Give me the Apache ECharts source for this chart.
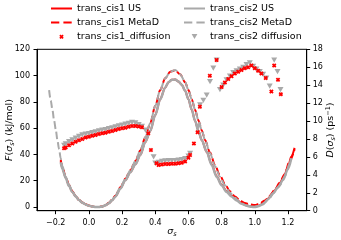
<!DOCTYPE html>
<html><head><meta charset="utf-8">
<script src="https://cdn.jsdelivr.net/npm/echarts@6/dist/echarts.min.js"></script>
<style>html,body{margin:0;padding:0;background:#fff}#c{width:341px;height:240px}</style>
</head><body><div id="c"></div>
<script>
// ---- data ----
const xTicks = [-0.2, 0.0, 0.2, 0.4, 0.6, 0.8, 1.0, 1.2];
const fTicks = [0, 20, 40, 60, 80, 100, 120];

const cis2US_sigma = [-0.17,-0.16,-0.14,-0.12,-0.10,-0.08,-0.06,-0.04,-0.02,0.00,0.02,0.04,0.06,0.08,0.10,0.12,0.14,0.16,0.19,0.22,0.25,0.28,0.31,0.34,0.37,0.40,0.43,0.46,0.48,0.50,0.52,0.54,0.56,0.58,0.60,0.62,0.64,0.66,0.68,0.71,0.74,0.77,0.80,0.83,0.86,0.89,0.92,0.95,0.98,1.00,1.02,1.05,1.08,1.11,1.14,1.17,1.20,1.22];
const cis2US_F = [34,29,22,16,11.5,8,5.3,3.3,2.0,1.0,0.4,0.1,0,0.3,1.3,2.8,5,8,14,20.5,26.5,32.5,39.5,49.5,58,70,82,91,95,96.8,97,95.5,93,88.5,82,74,65.5,58,51,42,32,23,16.5,11.5,8,5,2.5,1.0,0.2,0,0.5,2.2,6,10.5,15,20.5,29,37];

const cis2MD_sigma = [-0.24,-0.23,-0.22,-0.21,-0.20,-0.19,-0.18,-0.17,-0.16,-0.14,-0.12,-0.10,-0.08,-0.06,-0.04,-0.02,0.00,0.02,0.04,0.06,0.08,0.10,0.12,0.14,0.16,0.19,0.22,0.25,0.28,0.31,0.34,0.37,0.40,0.43,0.46,0.49,0.52,0.55,0.58,0.60,0.62,0.64,0.66,0.68,0.70,0.73,0.76,0.79,0.82,0.85,0.88,0.91,0.94,0.97,1.00,1.03,1.06,1.09,1.12,1.15,1.18,1.21,1.22];
const cis2MD_F = [89,81,74,66,59,51,44,37,31,23,17,12,8.3,5.5,3.4,2.0,1.0,0.4,0.1,0,0.4,1.5,3.2,5.6,8.8,15,21.5,28,35,43,53,64,77,89,98,103,104.3,101,95,89,82,74,66,58.5,51,41,31,23,16.5,11,7,3.8,1.6,0.4,0.2,1.0,3.5,7,11.5,16.5,23,33,37];

const cis1US_sigma = [-0.17,-0.16,-0.14,-0.12,-0.10,-0.08,-0.06,-0.04,-0.02,0.00,0.02,0.04,0.06,0.08,0.10,0.12,0.14,0.16,0.19,0.22,0.25,0.28,0.31,0.34,0.37,0.40,0.43,0.46,0.48,0.50,0.52,0.54,0.56,0.58,0.60,0.62,0.64,0.66,0.68,0.71,0.74,0.77,0.80,0.83,0.86,0.89,0.92,0.95,0.98,1.00,1.02,1.05,1.08,1.11,1.14,1.17,1.20,1.22,1.24];
const cis1US_F = [35,29.5,22.5,16.2,11.6,8.1,5.4,3.4,2.1,1.1,0.5,0.1,0,0.3,1.3,2.9,5.1,8.1,14.2,20.6,26.6,32.6,39.6,49.5,58,70,82,91,95,96.8,97,95.5,93,88.5,82,74,65.5,58,51,42,32.5,23.5,17,12,8.5,5.5,3,1.3,0.5,0.3,0.8,2.6,6.5,11,15.5,21.5,30,38.5,45];

const cis1MD_sigma = [-0.17,-0.16,-0.14,-0.12,-0.10,-0.08,-0.06,-0.04,-0.02,0.00,0.02,0.04,0.06,0.08,0.10,0.12,0.14,0.16,0.19,0.22,0.25,0.28,0.31,0.34,0.37,0.40,0.43,0.46,0.49,0.52,0.55,0.58,0.60,0.62,0.64,0.66,0.68,0.70,0.73,0.76,0.79,0.82,0.85,0.88,0.91,0.94,0.97,1.00,1.03,1.06,1.09,1.12,1.15,1.18,1.21,1.24];
const cis1MD_F = [36,30.5,22.8,16.8,12,8.3,5.5,3.4,2.0,1.0,0.4,0.1,0,0.4,1.5,3.2,5.6,8.8,15,21.5,28,35,43,53,64,77,89,98,103,104,101,95,89,82,74,66,58.5,51,41.5,32,24,17.5,12,8,5,3,2,1.6,2.5,5,8.5,13,18.5,25,35,44];

const cis1Diff_sigma = [-0.15,-0.14,-0.12,-0.10,-0.08,-0.06,-0.04,-0.02,0.00,0.02,0.04,0.06,0.08,0.10,0.12,0.14,0.16,0.18,0.20,0.22,0.24,0.26,0.28,0.30,0.32,0.358,0.374,0.408,0.42,0.44,0.46,0.48,0.50,0.52,0.54,0.56,0.58,0.60,0.61,0.633,0.655,0.669,0.729,0.77,0.80,0.82,0.84,0.86,0.88,0.90,0.92,0.94,0.96,0.98,1.00,1.02,1.04,1.066,1.10,1.117,1.14,1.157];
const cis1Diff_D = [6.96,7.05,7.3,7.5,7.7,7.85,8.0,8.15,8.25,8.35,8.45,8.55,8.65,8.7,8.8,8.9,9.0,9.1,9.2,9.25,9.35,9.45,9.45,9.4,9.3,8.63,6.77,5.3,5.1,5.15,5.2,5.2,5.25,5.25,5.3,5.35,5.5,5.9,6.2,7.5,8.74,11.6,15.05,16.8,13.8,14.3,14.7,15.0,15.3,15.5,15.7,15.9,16.0,16.2,15.9,15.6,15.3,14.8,13.3,16.2,14.6,13.0];

const cis2Diff_sigma = [-0.15,-0.14,-0.12,-0.10,-0.08,-0.06,-0.04,-0.02,0.00,0.02,0.04,0.06,0.08,0.10,0.12,0.14,0.16,0.18,0.20,0.22,0.24,0.26,0.28,0.30,0.32,0.34,0.355,0.39,0.40,0.42,0.44,0.46,0.48,0.50,0.52,0.54,0.56,0.58,0.60,0.61,0.66,0.67,0.69,0.71,0.73,0.75,0.77,0.79,0.81,0.83,0.85,0.87,0.89,0.91,0.93,0.95,0.97,0.99,1.01,1.03,1.05,1.07,1.09,1.117,1.137,1.155];
const cis2Diff_D = [7.3,7.45,7.7,7.9,8.1,8.3,8.45,8.55,8.6,8.7,8.8,8.9,9.0,9.05,9.15,9.25,9.35,9.45,9.55,9.65,9.75,9.85,9.8,9.6,9.4,9.0,8.6,6.0,5.3,5.4,5.5,5.55,5.6,5.6,5.6,5.65,5.7,5.8,6.1,6.4,9.4,11.8,12.3,12.9,14.4,15.9,16.8,13.5,14.0,14.6,15.0,15.4,15.6,15.8,16.0,16.3,16.5,16.1,15.8,15.5,15.2,14.8,13.9,16.8,15.5,13.5];

// ---- helpers ----
const zip = (a, b) => a.map((v, i) => [v, b[i]]);
const RED = '#ff0000', GRAY = '#a9a9a9', FONT = 'DejaVu Sans';
function xPath(ox, oy, s, d) {
  const p = (x, y) => (ox + x * s).toFixed(2) + ',' + (oy + y * s).toFixed(2);
  return 'M' + p(d,0) + 'L' + p(1,1-d) + 'L' + p(1-d,1) + 'L' + p(0,d) + 'Z' +
         'M' + p(1-d,0) + 'L' + p(1,d) + 'L' + p(d,1) + 'L' + p(0,1-d) + 'Z';
}
const xSymbol = 'path://' + xPath(0, 0, 10, 0.28);
const xLegendIcon = 'path://M0,0M21,10' + xPath(8.3, 2.8, 4.4, 0.28);
const triSymbol = 'path://M0,0L10,0L5,8.7Z';
const triLegendIcon = 'path://M0,0M21,10M7.6,2.4L13.4,2.4L10.5,7.4Z';
const solidLegendIcon = 'path://M0,0M21,10M0,4L21,4L21,6L0,6Z';
const dashLegendIcon = 'path://M0,0M21,10M0,4L8.3,4L8.3,6L0,6ZM12.4,4L20.7,4L20.7,6L12.4,6Z';

const fmtX = v => { const r = Math.round(v * 10) / 10; return (r < 0 ? '\u2212' : '') + Math.abs(r).toFixed(1); };
const nameRich = {
  i: { fontStyle: 'italic', fontFamily: FONT, fontSize: 9.5, color: '#000', lineHeight: 12, verticalAlign: 'middle' },
  n: { fontFamily: FONT, fontSize: 9.5, color: '#000', lineHeight: 12, verticalAlign: 'middle' },
  sub: { fontStyle: 'italic', fontFamily: FONT, fontSize: 6.5, color: '#000', lineHeight: 12, verticalAlign: 'bottom' },
  sup: { fontFamily: FONT, fontSize: 6.5, color: '#000', lineHeight: 12, verticalAlign: 'top' }
};
const tickLabel = { fontFamily: FONT, fontSize: 8, color: '#000' };
const legendText = { fontFamily: FONT, fontSize: 9.5, color: '#000', lineHeight: 10 };

const chart = echarts.init(document.getElementById('c'), null, { renderer: 'canvas' });
chart.setOption({
  animation: false,
  backgroundColor: '#fff',
  grid: { left: 37, right: 34.3, top: 49.3, bottom: 29.3, outerBoundsMode: 'none', containLabel: false,
          show: true, borderColor: '#000', borderWidth: 1, backgroundColor: 'transparent' },
  legend: [
    { left: 46, top: -1.5, orient: 'vertical', itemWidth: 21, itemHeight: 10, itemGap: 4.1, textStyle: legendText,
      data: [{ name: 'trans_cis1 US', icon: solidLegendIcon }, { name: 'trans_cis1 MetaD', icon: dashLegendIcon }, { name: 'trans_cis1_diffusion', icon: xLegendIcon }] },
    { left: 179, top: -1.5, orient: 'vertical', itemWidth: 21, itemHeight: 10, itemGap: 4.1, textStyle: legendText,
      data: [{ name: 'trans_cis2 US', icon: solidLegendIcon }, { name: 'trans_cis2 MetaD', icon: dashLegendIcon }, { name: 'trans_cis2 diffusion', icon: triLegendIcon }] }
  ],
  xAxis: {
    type: 'value', min: -0.313, max: 1.313,
    axisLine: { show: true, onZero: false, lineStyle: { color: '#000', width: 1 } },
    axisTick: { show: true, length: 3.5, customValues: xTicks, lineStyle: { color: '#000' } },
    axisLabel: Object.assign({ customValues: xTicks, formatter: fmtX, margin: 8 }, tickLabel),
    splitLine: { show: false },
    name: '{i|σ}{sub|s}', nameLocation: 'middle', nameGap: 15, nameMoveOverlap: false,
    nameTextStyle: { rich: nameRich }
  },
  yAxis: [
    { type: 'value', min: -2.8, max: 120, position: 'left',
      axisLine: { show: true, onZero: false, lineStyle: { color: '#000', width: 1 } },
      axisTick: { show: true, length: 3.5, customValues: fTicks, lineStyle: { color: '#000' } },
      axisLabel: Object.assign({ customValues: fTicks, margin: 7 }, tickLabel),
      splitLine: { show: false },
      name: '{i|F}{n|(}{i|σ}{sub|s}{n|) (kJ/mol)}', nameLocation: 'middle', nameRotate: 90, nameGap: 21, nameMoveOverlap: false,
      nameTextStyle: { rich: nameRich } },
    { type: 'value', min: 0, max: 18, interval: 2, position: 'right',
      axisLine: { show: true, onZero: false, lineStyle: { color: '#000', width: 1 } },
      axisTick: { show: true, length: 3.5, lineStyle: { color: '#000' } },
      axisLabel: Object.assign({ margin: 6 }, tickLabel),
      splitLine: { show: false },
      name: '{i|D}{n|(}{i|σ}{sub|s}{n|) (ps}{sup|−1}{n|)}', nameLocation: 'middle', nameRotate: 90, nameGap: 18, nameMoveOverlap: false,
      nameTextStyle: { rich: nameRich } }
  ],
  series: [
    { name: 'trans_cis1 US', type: 'line', yAxisIndex: 0, data: zip(cis1US_sigma, cis1US_F), symbol: 'none', showSymbol: false, smooth: 0.3, smoothMonotone: 'x',
      lineStyle: { color: RED, width: 2 }, itemStyle: { color: RED }, z: 2 },
    { name: 'trans_cis1 MetaD', type: 'line', yAxisIndex: 0, data: zip(cis1MD_sigma, cis1MD_F), symbol: 'none', showSymbol: false, smooth: 0.3, smoothMonotone: 'x',
      lineStyle: { color: RED, width: 2, type: [7.4, 3.2] }, itemStyle: { color: RED }, z: 2 },
    { name: 'trans_cis2 US', type: 'line', yAxisIndex: 0, data: zip(cis2US_sigma, cis2US_F), symbol: 'none', showSymbol: false, smooth: 0.3, smoothMonotone: 'x',
      lineStyle: { color: GRAY, width: 2.5 }, itemStyle: { color: GRAY }, z: 3 },
    { name: 'trans_cis2 MetaD', type: 'line', yAxisIndex: 0, data: zip(cis2MD_sigma, cis2MD_F), symbol: 'none', showSymbol: false, smooth: 0.3, smoothMonotone: 'x',
      lineStyle: { color: GRAY, width: 2, type: [7.4, 3.2] }, itemStyle: { color: GRAY }, z: 3 },
    { name: 'trans_cis2 diffusion', type: 'scatter', yAxisIndex: 1, data: zip(cis2Diff_sigma, cis2Diff_D),
      symbol: triSymbol, symbolSize: [6, 5.2], itemStyle: { color: GRAY, opacity: 1 }, z: 4 },
    { name: 'trans_cis1_diffusion', type: 'scatter', yAxisIndex: 1, data: zip(cis1Diff_sigma, cis1Diff_D),
      symbol: xSymbol, symbolSize: 4.5, itemStyle: { color: RED, opacity: 1 }, z: 5 }
  ]
});
</script></body></html>
